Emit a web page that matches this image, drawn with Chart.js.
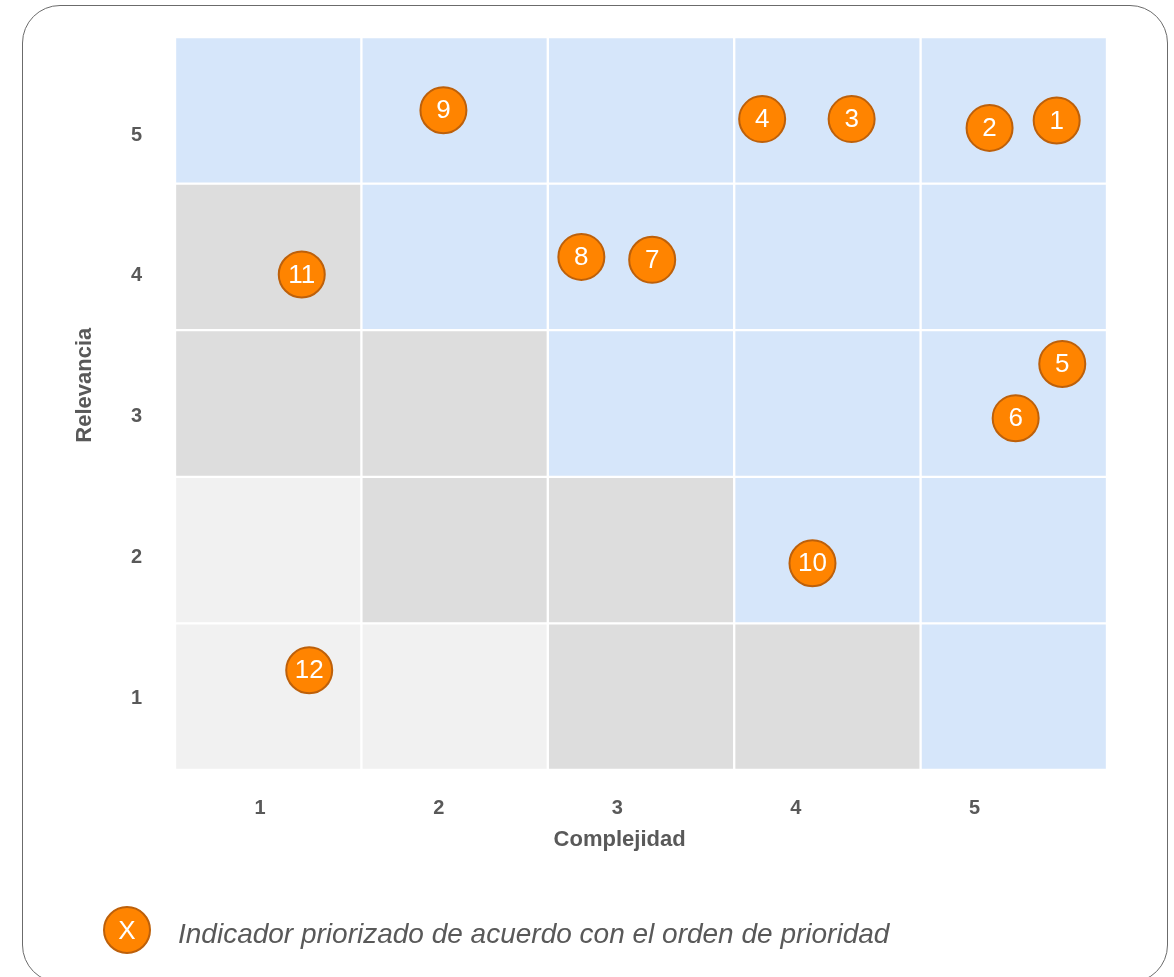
<!DOCTYPE html>
<html>
<head>
<meta charset="utf-8">
<script src="https://cdn.jsdelivr.net/npm/chart.js@4.4.1/dist/chart.umd.min.js"></script>
<style>
  html, body { margin: 0; padding: 0; background: #fff; overflow: hidden; }
  body { width: 1174px; height: 977px; position: relative; font-family: "Liberation Sans", Arial, sans-serif; }
  #frame {
    position: absolute; left: 22px; top: 5px; width: 1146px; height: 978px;
    box-sizing: border-box; border: 1.5px solid #6b6b6b; border-radius: 38px;
  }
  #chart { position: absolute; left: 0; top: 0; }
  #legend { position: absolute; left: 103px; top: 906px; height: 48px; display: flex; align-items: center; }
  #legend .dot {
    width: 48px; height: 48px; box-sizing: border-box; border-radius: 50%;
    background: #ff8400; border: 2px solid #bd600a; color: #fff;
    font-size: 26px; line-height: 44px; text-align: center;
  }
  #legend .txt { margin-left: 27px; font-size: 28px; font-style: italic; color: #595959; margin-top: 8px; }
</style>
</head>
<body>
<div id="frame"></div>
<canvas id="chart" width="1174" height="977"></canvas>
<div id="legend"><div class="dot">X</div><div class="txt">Indicador priorizado de acuerdo con el orden de prioridad</div></div>
<script>
// niveles de complejidad (x) y relevancia (y)
const niveles = [1, 2, 3, 4, 5];
// zona de cada celda: fila = relevancia 5..1, columna = complejidad 1..5
// A = prioritaria, M = media, B = baja
const zonas = [
  ["A", "A", "A", "A", "A"],
  ["M", "A", "A", "A", "A"],
  ["M", "M", "A", "A", "A"],
  ["B", "M", "M", "A", "A"],
  ["B", "B", "M", "M", "A"],
];
const ZONE_COLORS = { A: "#d6e6fa", M: "#dddddd", B: "#f1f1f1" };

// indicadores priorizados
const indicadores = ["1", "2", "3", "4", "5", "6", "7", "8", "9", "10", "11", "12"];
const complejidad = [5.23, 4.87, 4.13, 3.65, 5.26, 5.01, 3.06, 2.68, 1.94, 3.92, 1.18, 1.22];
const relevancia = [4.93, 4.88, 4.94, 4.94, 3.27, 2.90, 3.98, 4.00, 5.00, 1.91, 3.88, 1.18];

const TEXT_COLOR = "#595959";
const FONT = '"Liberation Sans", Arial, sans-serif';

// build cells as floating bars
let cells = [];
let cellColors = [];
zonas.forEach((fila, i) => {
  let rel = niveles[niveles.length - 1 - i];
  fila.forEach((z, j) => {
    cells.push({ x: niveles[j], y: [rel - 0.5, rel + 0.5] });
    cellColors.push(ZONE_COLORS[z]);
  });
});

const intTicks = (axis) => {
  axis.ticks = niveles.map((v) => ({ value: v }));
};

const pointLabels = {
  id: "pointLabels",
  afterDatasetsDraw(chart) {
    const meta = chart.getDatasetMeta(0);
    const ctx = chart.ctx;
    ctx.save();
    ctx.fillStyle = "#ffffff";
    ctx.font = "26px " + FONT;
    ctx.textAlign = "center";
    ctx.textBaseline = "middle";
    meta.data.forEach((el, i) => {
      ctx.fillText(indicadores[i], el.x, el.y + 1);
    });
    ctx.restore();
  },
};

new Chart(document.getElementById("chart"), {
  type: "bar",
  data: {
    datasets: [
      {
        type: "scatter",
        data: complejidad.map((c, i) => ({ x: c, y: relevancia[i] })),
        backgroundColor: "#ff8400",
        borderColor: "#bd600a",
        borderWidth: 2,
        pointRadius: 23,
        order: 1,
      },
      {
        type: "bar",
        data: cells,
        backgroundColor: cellColors,
        borderColor: "#ffffff",
        borderWidth: 1.5,
        borderSkipped: false,
        barPercentage: 1,
        categoryPercentage: 1,
        order: 2,
      },
    ],
  },
  options: {
    responsive: false,
    animation: false,
    events: [],
    layout: { autoPadding: false, padding: { left: 0, top: 37, right: 67, bottom: 107 } },
    plugins: { legend: { display: false }, tooltip: { enabled: false } },
    scales: {
      x: { type: "linear", min: 0.5, max: 5.5, offset: false, display: false, afterBuildTicks: intTicks },
      y: { type: "linear", min: 0.5, max: 5.5, offset: false, display: false },
      xt: {
        type: "linear",
        position: "bottom",
        min: 0.5235,
        max: 5.742,
        offset: false,
        afterBuildTicks: intTicks,
        afterFit: (s) => {
          s.height = 100;
          s.paddingLeft = 0;
          s.paddingRight = 0;
        },
        grid: { display: false, drawTicks: false },
        border: { display: false },
        ticks: { color: TEXT_COLOR, font: { family: FONT, size: 20, weight: "bold" }, padding: 26 },
        title: {
          display: true,
          // trailing spaces keep the title left of the plot centre, as in the original
          text: "Complejidad       ",
          color: TEXT_COLOR,
          font: { family: FONT, size: 22, weight: "bold" },
          padding: { top: 0, bottom: 17 },
        },
      },
      yt: {
        type: "linear",
        position: "left",
        min: 0.496,
        max: 5.695,
        offset: false,
        afterBuildTicks: intTicks,
        afterFit: (s) => {
          s.width = 175;
          s.paddingTop = 0;
          s.paddingBottom = 0;
        },
        grid: { display: false, drawTicks: false },
        border: { display: false },
        ticks: { color: TEXT_COLOR, font: { family: FONT, size: 20, weight: "bold" }, padding: 33 },
        title: {
          display: true,
          text: "      Relevancia",
          color: TEXT_COLOR,
          font: { family: FONT, size: 22, weight: "bold" },
          padding: { top: 72, bottom: 0 },
        },
      },
    },
  },
  plugins: [pointLabels],
});
</script>
</body>
</html>
